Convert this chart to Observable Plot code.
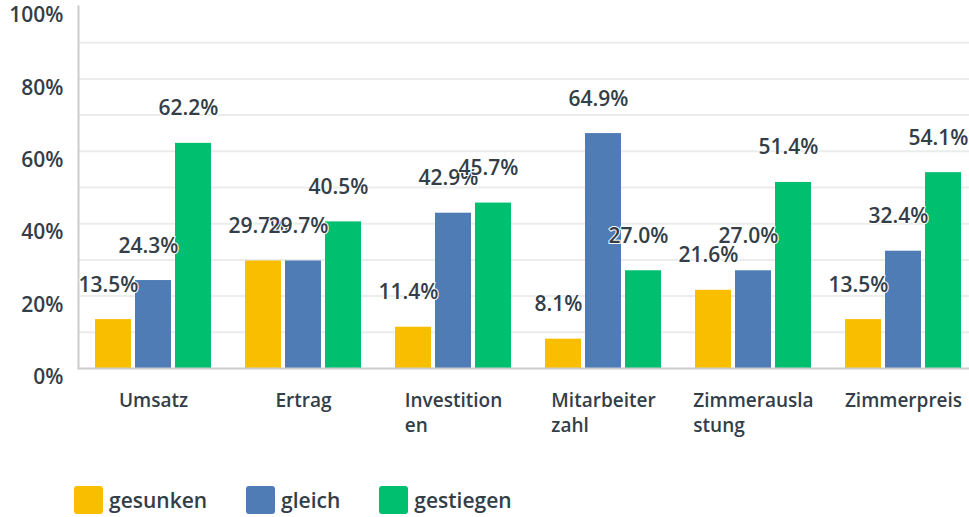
<!DOCTYPE html>
<html><head><meta charset="utf-8">
<script src="https://cdn.jsdelivr.net/npm/d3@7"></script>
<script src="https://cdn.jsdelivr.net/npm/@observablehq/plot@0.6"></script>
<style>
body{margin:0;background:#fff;font-family:"Open Sans",sans-serif;color:#333E48;}
#chart svg{display:block;}
#legend{display:flex;align-items:center;margin-left:74px;margin-top:26px;font-size:21px;font-weight:600;}
.item{display:flex;align-items:center;margin-right:39px;}
.sw{width:29px;height:28px;border-radius:3px;margin-right:6px;}
</style></head><body><div id="chart"></div><div id="legend"></div>
<script>
const categories = ["Umsatz","Ertrag","Investitionen","Mitarbeiterzahl","Zimmerauslastung","Zimmerpreis"];
const series = ["gesunken","gleich","gestiegen"];
const colors = ["#F9BE00","#507CB6","#00BF6F"];
const gesunken = [13.5, 29.7, 11.4, 8.1, 21.6, 13.5];
const gleich = [24.3, 29.7, 42.9, 64.9, 27.0, 32.4];
const gestiegen = [62.2, 40.5, 45.7, 27.0, 51.4, 54.1];
const yTicks = [0, 20, 40, 60, 80, 100];
const gridTicks = [10, 20, 30, 40, 50, 60, 70, 80, 90];

const seriesValues = [gesunken, gleich, gestiegen];
const data = categories.flatMap((c, i) => series.map((s, j) => ({category: c, series: s, value: seriesValues[j][i]})));
const wrap = d => d.length > 11 ? d.slice(0, 11) + "\n" + d.slice(11) : d;
const ink = "#333E48";

const plot = Plot.plot({
  width: 969, height: 460,
  marginLeft: 78, marginRight: -9, marginTop: 6, marginBottom: 92,
  style: {fontFamily: "Open Sans", fontSize: "18px", color: ink, background: "transparent", overflow: "visible"},
  fx: {domain: categories, padding: 0, label: null},
  x: {domain: series, paddingInner: 0.1, paddingOuter: 0.4, axis: null},
  y: {domain: [0, 100], axis: null},
  color: {domain: series, range: colors},
  marks: [
    Plot.gridY(gridTicks, {stroke: "#EBECEC", strokeOpacity: 1, strokeWidth: 2}),
    Plot.frame({anchor: "left", facetAnchor: "left", stroke: "#CCCCCC", strokeWidth: 2}),
    Plot.axisY(yTicks, {tickSize: 0, tickPadding: 15, label: null, tickFormat: d => d + "%", dy: 9, fontSize: 21, fontWeight: 600, fill: ink, facetAnchor: "left"}),
    Plot.axisFx({anchor: "bottom", tickSize: 0, tickPadding: 20, label: null, tickFormat: wrap, lineHeight: 1.35, fontSize: 19, fontWeight: 600, fill: ink}),
    Plot.barY(data, {fx: "category", x: "series", y: "value", fill: "series"}),
    Plot.ruleY([0], {stroke: "#CCCCCC", strokeWidth: 2}),
    Plot.text(data, {fx: "category", x: "series", y: "value", text: d => d.value.toFixed(1) + "%", lineAnchor: "bottom", dy: -28, dx: -5, fontSize: 21, fontWeight: 600, fill: ink, stroke: "white", strokeWidth: 2})
  ]
});
document.getElementById("chart").append(plot);

// left-align wrapped category labels as a block
plot.querySelectorAll("[aria-label='fx-axis tick label'] text").forEach(t => {
  const spans = t.querySelectorAll("tspan");
  if (spans.length > 1) {
    let w = 0;
    spans.forEach(s => { w = Math.max(w, s.getComputedTextLength()); });
    t.setAttribute("text-anchor", "start");
    spans.forEach(s => s.setAttribute("x", -w / 2));
  }
});

const legend = document.getElementById("legend");
series.forEach((s, i) => {
  const item = document.createElement("div");
  item.className = "item";
  const sw = document.createElement("div");
  sw.className = "sw";
  sw.style.background = colors[i];
  const lab = document.createElement("span");
  lab.textContent = s;
  item.append(sw, lab);
  legend.append(item);
});
</script></body></html>
